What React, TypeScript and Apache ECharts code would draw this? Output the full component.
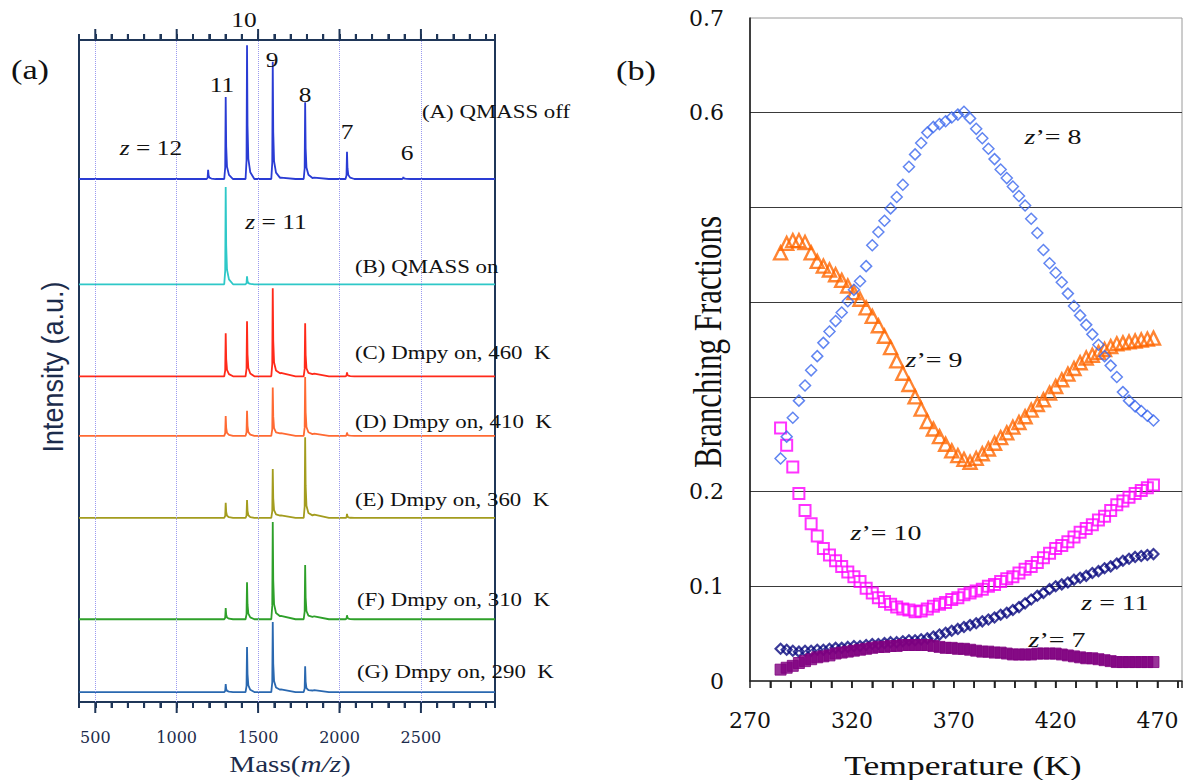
import React, { useEffect, useRef } from "react";
import * as echarts from "echarts";

// ---------- Panel (a): mass spectra ----------
const peakMasses = [1193, 1301, 1432, 1590, 1789, 2046, 2392]; // z = 12 .. 6
const humpMasses = [1640, 1845];
const massLabels = [500, 1000, 1500, 2000, 2500];
const massTicks = [500, 600, 700, 800, 900, 1000, 1100, 1200, 1300, 1400, 1500, 1600, 1700, 1800, 1900, 2000, 2100, 2200, 2300, 2400, 2500, 2600, 2700, 2800, 2900];

const specNames = ["A", "B", "C", "D", "E", "F", "G"];
const specBaselines = [79.0, 63.1, 49.2, 40.2, 27.8, 12.5, 1.5];
const heightsA = [1.4, 12.4, 20.2, 17.7, 11.6, 4.1, 0.3];
const heightsB = [0, 14.7, 1.2, 0, 0, 0, 0];
const heightsC = [0, 6.5, 8.3, 13.3, 8.0, 0.6, 0];
const heightsD = [0, 3.0, 3.8, 7.3, 8.9, 0.5, 0];
const heightsE = [0, 2.3, 2.7, 7.4, 12.2, 0.6, 0];
const heightsF = [0, 1.7, 5.6, 14.7, 8.2, 0.6, 0];
const heightsG = [0, 1.2, 6.8, 10.6, 3.9, 0, 0];
const humpsA = [0.2, 0.2];
const humpsB = [0, 0];
const humpsC = [0.5, 0.4];
const humpsD = [0.4, 0.35];
const humpsE = [0.4, 0.5];
const humpsF = [0.5, 0.45];
const humpsG = [0.4, 0.3];
const specColors = ["#2a3cd4", "#2ec8c8", "#ff2a1a", "#ff6a33", "#a39c1e", "#2ea02a", "#2a68b0"];

// ---------- Panel (b): branching fractions ----------
const temps = [285, 288, 291, 294, 297, 300, 303, 306, 309, 312, 315, 318, 321, 324, 327, 330, 333, 336, 339, 342, 345, 348, 351, 354, 357, 360, 363, 366, 369, 372, 375, 378, 381, 384, 387, 390, 393, 396, 399, 402, 405, 408, 411, 414, 417, 420, 423, 426, 429, 432, 435, 438, 441, 444, 447, 450, 453, 456, 459, 462, 465, 468];
const bfZ8 = [0.235, 0.258, 0.278, 0.296, 0.312, 0.328, 0.343, 0.357, 0.369, 0.380,
  0.389, 0.401, 0.413, 0.422, 0.438, 0.460, 0.474, 0.486, 0.499, 0.511,
  0.524, 0.543, 0.556, 0.568, 0.579, 0.585, 0.588, 0.591, 0.595, 0.598,
  0.601, 0.594, 0.583, 0.573, 0.562, 0.551, 0.540, 0.531, 0.522, 0.512,
  0.502, 0.488, 0.473, 0.455, 0.441, 0.431, 0.421, 0.409, 0.396, 0.386,
  0.376, 0.366, 0.355, 0.343, 0.333, 0.321, 0.305, 0.296, 0.290, 0.285,
  0.280, 0.275];
const bfZ9 = [0.452, 0.462, 0.465, 0.465, 0.463, 0.452, 0.443, 0.438, 0.434, 0.429,
  0.423, 0.417, 0.410, 0.403, 0.394, 0.385, 0.375, 0.364, 0.352, 0.338,
  0.325, 0.313, 0.300, 0.287, 0.274, 0.266, 0.258, 0.250, 0.243, 0.238,
  0.234, 0.231, 0.235, 0.240, 0.245, 0.251, 0.257, 0.262, 0.268, 0.273,
  0.279, 0.286, 0.292, 0.297, 0.304, 0.311, 0.318, 0.324, 0.330, 0.336,
  0.341, 0.344, 0.347, 0.350, 0.353, 0.356, 0.357, 0.358, 0.359, 0.360,
  0.361, 0.362];
const bfZ10 = [0.267, 0.249, 0.226, 0.198, 0.180, 0.166, 0.153, 0.140, 0.133, 0.127,
  0.121, 0.115, 0.110, 0.105, 0.098, 0.093, 0.088, 0.084, 0.081, 0.078,
  0.076, 0.075, 0.073, 0.074, 0.076, 0.079, 0.081, 0.083, 0.086, 0.088,
  0.091, 0.093, 0.095, 0.097, 0.100, 0.102, 0.105, 0.108, 0.110, 0.114,
  0.118, 0.121, 0.125, 0.130, 0.135, 0.140, 0.143, 0.147, 0.152, 0.157,
  0.161, 0.165, 0.170, 0.174, 0.180, 0.186, 0.190, 0.194, 0.198, 0.201,
  0.204, 0.207];
const bfZ11 = [0.034, 0.033, 0.032, 0.031, 0.032, 0.032, 0.033, 0.033, 0.034, 0.035,
  0.035, 0.036, 0.037, 0.037, 0.038, 0.039, 0.039, 0.040, 0.041, 0.041,
  0.042, 0.043, 0.043, 0.044, 0.045, 0.047, 0.049, 0.051, 0.053, 0.055,
  0.057, 0.059, 0.061, 0.063, 0.065, 0.067, 0.070, 0.072, 0.075, 0.078,
  0.082, 0.086, 0.090, 0.093, 0.097, 0.100, 0.102, 0.104, 0.107, 0.109,
  0.111, 0.114, 0.116, 0.119, 0.121, 0.124, 0.127, 0.129, 0.131, 0.132,
  0.133, 0.134];
const bfZ7 = [0.012, 0.014, 0.016, 0.019, 0.021, 0.023, 0.025, 0.026, 0.027, 0.029,
  0.030, 0.031, 0.032, 0.033, 0.034, 0.035, 0.036, 0.036, 0.037, 0.037,
  0.038, 0.038, 0.038, 0.038, 0.038, 0.037, 0.036, 0.035, 0.035, 0.034,
  0.034, 0.033, 0.032, 0.031, 0.031, 0.030, 0.030, 0.029, 0.028, 0.028,
  0.028, 0.028, 0.029, 0.029, 0.029, 0.029, 0.028, 0.027, 0.026, 0.025,
  0.024, 0.024, 0.023, 0.022, 0.021, 0.020, 0.020, 0.020, 0.020, 0.020,
  0.020, 0.020];
const tempLabels = [270, 320, 370, 420, 470];
const tempTicks = [280, 290, 300, 310, 320, 330, 340, 350, 360, 370, 380, 390, 400, 410, 420, 430, 440, 450, 460, 470, 480];
const bfLabels = [0, 0.1, 0.2, 0.6, 0.7];

// peak profile (mass offset, fraction of height) and broad hump profile
const peakShape: [number, number][] = [[-9, 0], [-3, 0.14], [0, 1], [3, 0.4], [8, 0.15], [20, 0.05], [45, 0]];
const humpShape: [number, number][] = [[-50, 0], [0, 1], [90, 0]];

function shapeAt(shape: [number, number][], d: number) {
  if (d <= shape[0][0] || d >= shape[shape.length - 1][0]) return 0;
  for (let i = 0; i < shape.length - 1; i++) {
    const [x0, y0] = shape[i];
    const [x1, y1] = shape[i + 1];
    if (d >= x0 && d <= x1) return y0 + ((d - x0) / (x1 - x0)) * (y1 - y0);
  }
  return 0;
}

function buildTrace(base: number, heights: number[], humps: number[]) {
  const xs = new Set<number>([400, 2955]);
  peakMasses.forEach((m, i) => { if (heights[i] > 0) peakShape.forEach(([dx]) => xs.add(m + dx)); });
  humpMasses.forEach((m, i) => { if (humps[i] > 0) humpShape.forEach(([dx]) => xs.add(m + dx)); });
  const sorted = Array.from(xs).sort((a, b) => a - b);
  return sorted.map((x) => {
    let y = base;
    peakMasses.forEach((m, i) => { if (heights[i] > 0) y += heights[i] * shapeAt(peakShape, x - m); });
    humpMasses.forEach((m, i) => { if (humps[i] > 0) y += humps[i] * shapeAt(humpShape, x - m); });
    return [x, y];
  });
}

const serif = '"Liberation Serif", "Times New Roman", serif';
const dserif = '"DejaVu Serif", serif';
const sans = '"Liberation Sans", Arial, sans-serif';
const navy = "#1f3658";
const STRETCH = 1.27;

function txt(text: string, x: number, y: number, o: any = {}) {
  const fs = o.fontSize || 18;
  const fam = o.fontFamily || serif;
  return {
    type: "text",
    x, y, z: 100,
    rotation: o.rotation || 0,
    scaleX: o.scaleX ?? STRETCH,
    scaleY: o.scaleY ?? 1,
    style: {
      text,
      fontSize: fs,
      fontFamily: fam,
      fill: o.color || "#111",
      align: o.align || "center",
      verticalAlign: "middle",
      textAlign: o.align || "center",
      textVerticalAlign: "middle",
      rich: {
        i: { fontStyle: "italic", fontSize: fs, fontFamily: fam, fill: o.color || "#111" },
        n: { fontSize: fs, fontFamily: fam, fill: o.color || "#111" },
      },
    },
  };
}

const isIn = (arr: number[], v: number) => arr.some((a) => Math.abs(a - v) < 1e-6);

// tick marks placed through the axes' scales
function tickSeries(xi: number, yi: number, values: number[], yVal: number, lenFn: (v: number) => number, color: string, width: number) {
  return {
    type: "custom",
    xAxisIndex: xi,
    yAxisIndex: yi,
    clip: false,
    z: 10,
    data: values.map((v) => [v, yVal]),
    renderItem: (params: any, api: any) => {
      const v = api.value(0);
      const p = api.coord([v, api.value(1)]);
      return { type: "line", shape: { x1: p[0], y1: p[1], x2: p[0], y2: p[1] + lenFn(v) }, style: { stroke: color, lineWidth: width } };
    },
  };
}

// tick labels placed through the axes' scales
function labelSeries(xi: number, yi: number, values: number[], yVal: number, dy: number, fontSize: number, color: string) {
  return {
    type: "custom",
    xAxisIndex: xi,
    yAxisIndex: yi,
    clip: false,
    data: values.map((v) => [v, yVal]),
    renderItem: (params: any, api: any) => {
      const v = api.value(0);
      const p = api.coord([v, api.value(1)]);
      return {
        type: "text",
        x: p[0],
        y: p[1] + dy,
        style: {
          text: String(v),
          fontFamily: dserif,
          fontSize,
          fill: color,
          align: "center",
          verticalAlign: "middle",
          textAlign: "center",
          textVerticalAlign: "middle",
        },
      };
    },
  };
}

export default function App() {
  const ref = useRef<HTMLDivElement>(null);
  useEffect(() => {
    if (!ref.current) return;
    const chart = echarts.init(ref.current, undefined, { renderer: "svg" });
    const allHeights = [heightsA, heightsB, heightsC, heightsD, heightsE, heightsF, heightsG];
    const allHumps = [humpsA, humpsB, humpsC, humpsD, humpsE, humpsF, humpsG];

    const specSeries = specNames.map((n, i) => ({
      name: "Spectrum " + n,
      type: "line",
      xAxisIndex: 0,
      yAxisIndex: 0,
      showSymbol: false,
      symbol: "none",
      lineStyle: { color: specColors[i], width: 1.8 },
      data: buildTrace(specBaselines[i], allHeights[i], allHumps[i]),
      z: 3,
      ...(i === 0
        ? {
            markLine: {
              silent: true,
              symbol: ["none", "none"],
              label: { show: false },
              lineStyle: { type: "dotted", color: "#9a9af0", width: 1 },
              data: massLabels.map((m) => ({ xAxis: m })),
            },
          }
        : {}),
    }));

    const scatter = (name: string, vals: number[], symbol: string, size: number, color: string, filled: boolean, bw: number) => ({
      name,
      type: "scatter",
      xAxisIndex: 2,
      yAxisIndex: 1,
      symbol,
      symbolSize: size,
      itemStyle: filled
        ? { color, borderColor: color, borderWidth: 1 }
        : { color: "rgba(255,255,255,0)", borderColor: color, borderWidth: bw },
      data: temps.map((t, i) => [t, vals[i]]),
    });

    const massAxis = (pos: string) => ({
      type: "value", gridIndex: 0, min: 400, max: 2955, interval: 100, position: pos,
      axisLine: { show: true, onZero: false, lineStyle: { color: navy, width: 2 } },
      axisTick: { show: true, length: 6, lineStyle: { color: navy, width: 2 } },
      axisLabel: { show: false },
      splitLine: { show: false },
    });

    const majorLen = (v: number) => (isIn(massLabels, v) ? 11 : 6);

    const option: any = {
      animation: false,
      grid: [
        { left: 79, top: 40, width: 416, height: 662, show: true, borderColor: navy, borderWidth: 2 },
        { left: 750, top: 18, width: 432, height: 663, show: true, borderColor: "#9a9a9a", borderWidth: 1 },
      ],
      xAxis: [
        massAxis("bottom"),
        massAxis("top"),
        {
          type: "value", gridIndex: 1, min: 270, max: 482, interval: 10, position: "bottom",
          axisLine: { show: true, onZero: false, lineStyle: { color: "#222", width: 1.5 } },
          axisTick: { show: true, length: 7, lineStyle: { color: "#222", width: 1.5 } },
          axisLabel: { show: false },
          splitLine: { show: false },
        },
      ],
      yAxis: [
        { type: "value", gridIndex: 0, min: 0, max: 100, show: false },
        {
          type: "value", gridIndex: 1, min: 0, max: 0.7, interval: 0.1,
          axisLine: { show: true, onZero: false, lineStyle: { color: "#111", width: 1.5 } },
          axisTick: { show: false },
          axisLabel: {
            fontFamily: dserif, fontSize: 22, color: "#111", margin: 26,
            formatter: (v: number) => (isIn(bfLabels, v) ? String(Math.round(v * 10) / 10) : ""),
          },
          splitLine: { show: true, showMinLine: false, showMaxLine: false, lineStyle: { color: "#3a3a3a", width: 1 } },
        },
      ],
      series: [
        ...specSeries,
        tickSeries(0, 0, massTicks, 0, majorLen, navy, 2),
        tickSeries(0, 0, massTicks, 100, (v) => -majorLen(v), navy, 2),
        tickSeries(2, 1, tempTicks, 0, () => 7, "#222", 1.6),
        labelSeries(0, 0, massLabels, 0, 35, 16, "#1c2c4c"),
        labelSeries(2, 1, tempLabels, 0, 39, 22, "#111"),
        scatter("z=11", bfZ11, "diamond", 10, "#0a0a80", false, 2.2),
        scatter("z'=7", bfZ7, "rect", 11, "#800080", true, 1),
        scatter("z'=10", bfZ10, "rect", 11, "#ff00ff", false, 2),
        scatter("z'=9", bfZ9, "triangle", 13, "#ff6600", false, 2.4),
        scatter("z'=8", bfZ8, "diamond", 11, "#3a66ee", false, 1.5),
      ],
      graphic: [
        txt("(a)", 30, 70, { fontSize: 27 }),
        txt("10", 244, 20, { fontSize: 20 }),
        txt("11", 222, 85, { fontSize: 20 }),
        txt("9", 272, 60, { fontSize: 20 }),
        txt("8", 305, 95, { fontSize: 20 }),
        txt("7", 347, 132, { fontSize: 20 }),
        txt("6", 407, 153, { fontSize: 20 }),
        txt("{i|z}{n| = 12}", 151, 148, { fontSize: 20 }),
        txt("{i|z}{n| = 11}", 276, 222, { fontSize: 20 }),
        txt("(A) QMASS off", 422, 112, { align: "left" }),
        txt("(B) QMASS on", 355, 267, { align: "left" }),
        txt("(C) Dmpy on, 460  K", 355, 353, { align: "left" }),
        txt("(D) Dmpy on, 410  K", 355, 422, { align: "left" }),
        txt("(E) Dmpy on, 360  K", 355, 500, { align: "left" }),
        txt("(F) Dmpy on, 310  K", 357, 600, { align: "left" }),
        txt("(G) Dmpy on, 290  K", 357, 672, { align: "left" }),
        txt("Intensity (a.u.)", 53, 367, { fontSize: 27, fontFamily: sans, rotation: Math.PI / 2, scaleX: 1, scaleY: 1.1, color: "#1c2c4c" }),
        txt("{n|Mass(}{i|m/z}{n|)}", 290, 765, { fontSize: 23, color: "#1c2c4c" }),
        txt("(b)", 636, 71, { fontSize: 27 }),
        txt("{i|z}{n|’= 8}", 1053, 137, { fontSize: 22 }),
        txt("{i|z}{n|’= 9}", 934, 360, { fontSize: 22 }),
        txt("{i|z}{n|’= 10}", 886, 533, { fontSize: 22 }),
        txt("{i|z}{n| = 11}", 1115, 603, { fontSize: 22 }),
        txt("{i|z}{n|’= 7}", 1057, 640, { fontSize: 22 }),
        txt("Branching Fractions", 708, 342, { fontSize: 31, rotation: Math.PI / 2, scaleX: 1, scaleY: STRETCH }),
        txt("Temperature (K)", 963, 765, { fontSize: 28 }),
      ],
    };
    chart.setOption(option);
    return () => chart.dispose();
  }, []);
  return <div ref={ref} style={{ width: 1187, height: 780, position: "absolute", left: 0, top: 0 }} />;
}
